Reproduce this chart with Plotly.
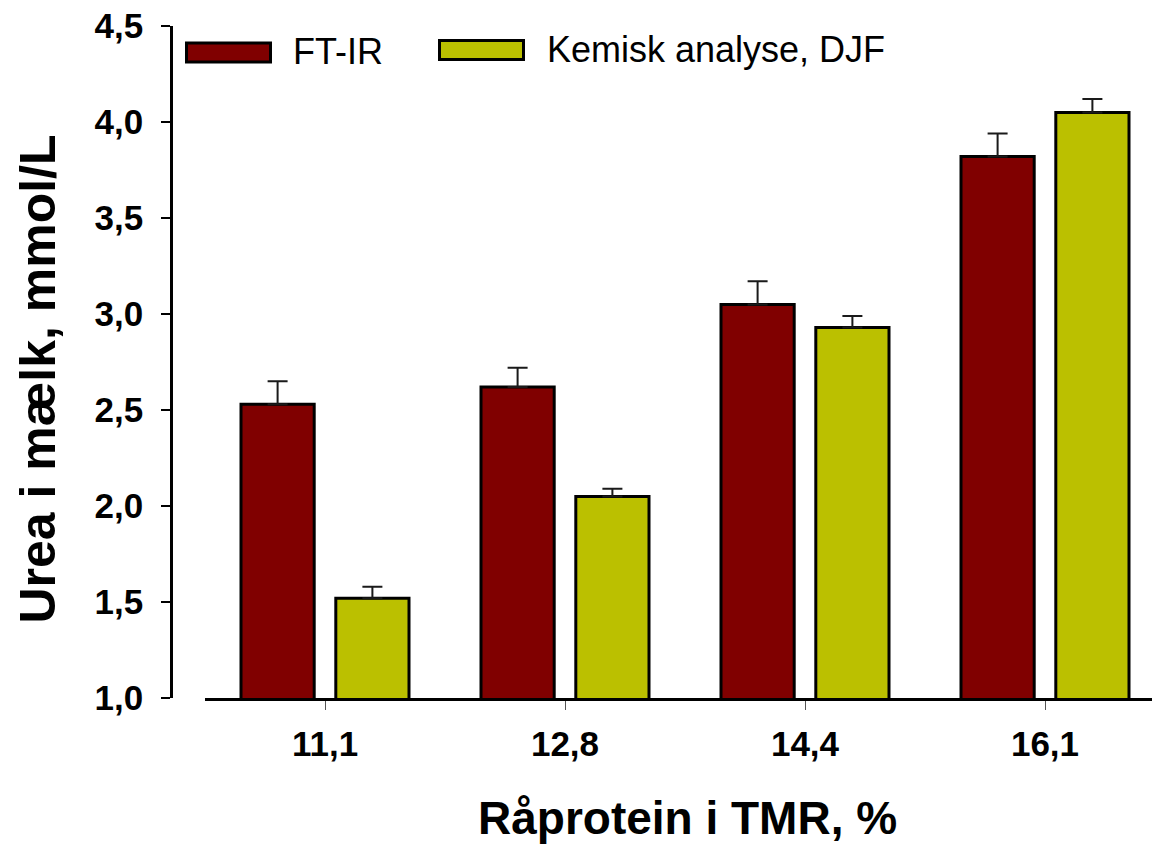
import plotly.graph_objects as go

# Crude protein in TMR (%) and milk urea (mmol/L), mean + SE
protein_levels = ["11,1", "12,8", "14,4", "16,1"]
ftir_mean = [2.53, 2.62, 3.05, 3.82]
ftir_se = [0.12, 0.10, 0.12, 0.12]
chem_mean = [1.52, 2.05, 2.93, 4.05]
chem_se = [0.06, 0.04, 0.06, 0.07]
series_names = ["FT-IR", "Kemisk analyse, DJF"]
y_ticks = [1.0, 1.5, 2.0, 2.5, 3.0, 3.5, 4.0, 4.5]

RED = "#800000"
OLIVE = "#BBC000"

W, H = 1152, 845
ML, MR, MT, MB = 171, 0, 26, 147
PW, PH = W - ML - MR, H - MT - MB


def px(x):
    return (x - ML) / PW


def py(y):
    return (H - MB - y) / PH


fig = go.Figure()
fig.add_trace(go.Bar(
    x=protein_levels, y=ftir_mean, name=series_names[0],
    width=0.305, offset=-0.35,
    marker=dict(color=RED, line=dict(color="black", width=3)),
    error_y=dict(type="data", array=ftir_se, symmetric=False,
                 arrayminus=[0] * len(ftir_se),
                 color="#1a1a1a", thickness=2, width=10),
    showlegend=False,
))
fig.add_trace(go.Bar(
    x=protein_levels, y=chem_mean, name=series_names[1],
    width=0.305, offset=0.045,
    marker=dict(color=OLIVE, line=dict(color="black", width=3)),
    error_y=dict(type="data", array=chem_se, symmetric=False,
                 arrayminus=[0] * len(chem_se),
                 color="#1a1a1a", thickness=2, width=10),
    showlegend=False,
))

# Legend drawn as long swatches with labels
legend_items = [
    (series_names[0], RED, 186.5, 270.5, 43, 62, 291, 52),
    (series_names[1], OLIVE, 439.5, 523.5, 40.5, 59.5, 545, 50),
]
shapes = []
annotations = []
for name, col, x0, x1, y0, y1, tx, ty in legend_items:
    shapes.append(dict(type="rect", xref="paper", yref="paper",
                       x0=px(x0), x1=px(x1), y0=py(y1), y1=py(y0),
                       fillcolor=col, line=dict(color="black", width=3)))
    annotations.append(dict(text=name, xref="paper", yref="paper",
                            x=px(tx), y=py(ty), xanchor="left", yanchor="middle",
                            showarrow=False,
                            font=dict(family="Liberation Sans", size=36, color="black")))

annotations.append(dict(text="Urea i mælk, mmol/L", xref="paper", yref="paper",
                        x=px(37.5), y=py(379), xanchor="center", yanchor="middle",
                        textangle=-90, showarrow=False,
                        font=dict(family="Liberation Sans", size=50, color="black",
                                  weight="bold")))
annotations.append(dict(text="Råprotein i TMR, %", xref="paper", yref="paper",
                        x=px(687.5), y=py(818), xanchor="center", yanchor="middle",
                        showarrow=False,
                        font=dict(family="Liberation Sans", size=46, color="black",
                                  weight="bold")))

fig.update_layout(
    width=W, height=H,
    margin=dict(l=ML, r=MR, t=MT, b=MB, pad=0),
    paper_bgcolor="white", plot_bgcolor="white",
    separators=",.",
    shapes=shapes,
    annotations=annotations,
    xaxis=dict(
        domain=[px(205), 1],
        range=[-0.5, -0.5 + (W - 205) / 240],
        showline=True, linecolor="black", linewidth=3,
        ticks="outside", ticklen=9, tickwidth=1, tickcolor="#555555",
        ticklabelstandoff=4,
        tickfont=dict(family="Liberation Sans", size=35, color="black", weight="bold"),
        showgrid=False, zeroline=False,
    ),
    yaxis=dict(
        anchor="free", position=0,
        range=[1.0, 4.5],
        tickvals=y_ticks, tickformat=".1f",
        showline=True, linecolor="black", linewidth=2.5,
        ticks="outside", ticklen=9, tickwidth=1.5, tickcolor="black",
        ticklabelstandoff=11,
        tickfont=dict(family="Liberation Sans", size=35, color="black", weight="bold"),
        showgrid=False, zeroline=False,
    ),
)

fig.write_html("out.html")
